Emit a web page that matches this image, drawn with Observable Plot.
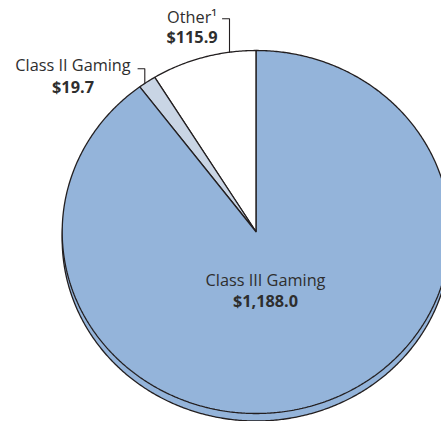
<!DOCTYPE html>
<html>
<head>
<meta charset="utf-8">
<script src="https://cdn.jsdelivr.net/npm/d3@7"></script>
<script src="https://cdn.jsdelivr.net/npm/@observablehq/plot@0.6"></script>
<style>
  html, body { margin: 0; padding: 0; background: #fff; }
  #chart svg { display: block; }
</style>
</head>
<body>
<div id="chart"></div>
<script>
// ---- data ----
const categories = ["Other¹", "Class II Gaming", "Class III Gaming"];
const values = [115.9, 19.7, 1188.0];
const valueLabels = ["$115.9", "$19.7", "$1,188.0"];
const colors = ["#ffffff", "#c9d5e5", "#94b4da"];

// ---- layout (pixels) ----
const W = 441, H = 421;
const cx = 255.7, cy = 231.5, rx = 194, ry = 181.5, depth = 7.5;
const X = px => (px - cx) / rx;
const Y = py => (cy - py) / ry;
const ink = "#231f20";
const textInk = "#2e2e2e";
const fs = 16.3;

// slices: start at top, going counter-clockwise
const total = d3.sum(values);
let acc = 0;
const slices = values.map((v, i) => {
  const a0 = acc / total * 2 * Math.PI;
  acc += v;
  const a1 = acc / total * 2 * Math.PI;
  return {name: categories[i], a0, a1, color: colors[i]};
});
const edge = a => ({x: -Math.sin(a), y: Math.cos(a)});
function slicePoints(s) {
  const pts = [{x: 0, y: 0}];
  const n = Math.max(2, Math.ceil((s.a1 - s.a0) / (Math.PI / 360)));
  for (let k = 0; k <= n; k++) pts.push(edge(s.a0 + (s.a1 - s.a0) * k / n));
  return pts;
}
const rim = d3.range(0, 721).map(k => edge(k / 720 * 2 * Math.PI));

// label placement (pixels)
const labelLayout = [
  {i: 0, x: 191.5, yName: 22.7, yValue: 42.7, leader: [[222, 18.3], [229, 18.3]], edgeX: 229},
  {i: 1, x: 72.5, yName: 70.7, yValue: 92.5, leader: [[137.5, 68.3], [144.3, 68.3]], edgeX: 144.3},
  {i: 2, x: 265, yName: 285.7, yValue: 306, leader: null}
];
const leaders = [];
labelLayout.forEach((L, j) => {
  if (!L.leader) return;
  L.leader.forEach(([px, py]) => leaders.push({z: j, x: X(px), y: Y(py)}));
  const ex = X(L.edgeX);
  leaders.push({z: j, x: ex, y: Math.sqrt(Math.max(0, 1 - ex * ex))});
});
const nameTexts = labelLayout.map(L => ({x: X(L.x), y: Y(L.yName), t: categories[L.i]}));
const valueTexts = labelLayout.map(L => ({x: X(L.x), y: Y(L.yValue), t: valueLabels[L.i]}));

const marks = [
  // pie depth (lower rim)
  Plot.line(rim, {x: "x", y: "y", dy: depth, curve: "linear-closed", fill: colors[2], stroke: ink, strokeWidth: 1.3}),
  ...slices.map(s => Plot.line(slicePoints(s), {x: "x", y: "y", curve: "linear-closed", fill: s.color, stroke: ink, strokeWidth: 1.3, strokeLinejoin: "miter"})),
  Plot.line(leaders, {x: "x", y: "y", z: "z", stroke: ink, strokeWidth: 1.1}),
  Plot.text(nameTexts, {x: "x", y: "y", text: "t", textAnchor: "middle", lineAnchor: "bottom", fontSize: fs, fill: textInk}),
  Plot.text(valueTexts, {x: "x", y: "y", text: "t", textAnchor: "middle", lineAnchor: "bottom", fontSize: fs, fontWeight: "bold", fill: textInk})
];

const chart = Plot.plot({
  width: W, height: H,
  margin: 0,
  x: {domain: [-1, 1], range: [cx - rx, cx + rx], axis: null},
  y: {domain: [-1, 1], range: [cy + ry, cy - ry], axis: null},
  style: {fontFamily: "'Open Sans', 'Noto Sans', sans-serif", background: "#fff", overflow: "hidden"},
  marks
});
document.getElementById("chart").appendChild(chart);
</script>
</body>
</html>
